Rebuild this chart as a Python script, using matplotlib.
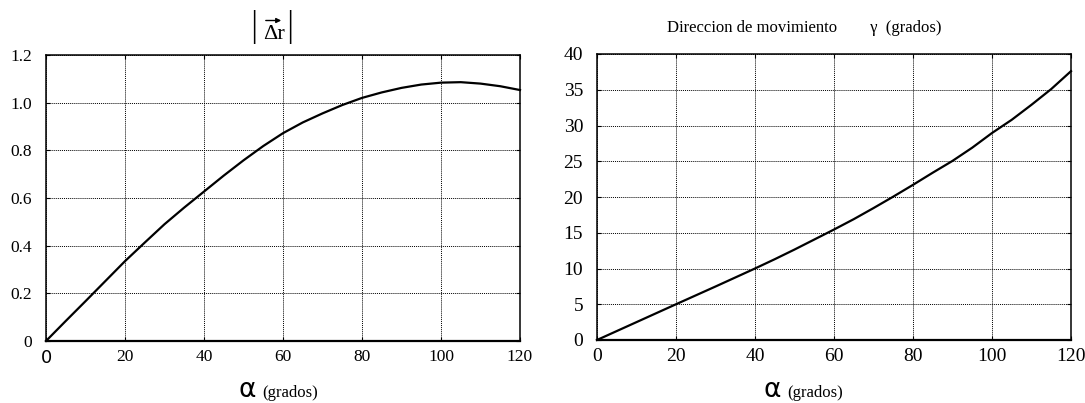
import matplotlib
matplotlib.use("Agg")
import matplotlib.pyplot as plt
from matplotlib.ticker import FixedLocator, FixedFormatter

alpha = [0, 5, 10, 15, 20, 25, 30, 35, 40, 45, 50, 55, 60, 65, 70, 75, 80,
         85, 90, 95, 100, 105, 110, 115, 120]
delta_r = [0, 0.084, 0.167, 0.251, 0.335, 0.413, 0.49, 0.56, 0.627, 0.694,
           0.758, 0.818, 0.872, 0.917, 0.955, 0.99, 1.02, 1.043, 1.062,
           1.076, 1.084, 1.086, 1.08, 1.069, 1.053]
gamma = [0, 1.25, 2.5, 3.75, 5.0, 6.24, 7.48, 8.74, 10.0, 11.3, 12.65, 14.05,
         15.45, 16.9, 18.45, 20.05, 21.7, 23.4, 25.05, 26.9, 28.95, 30.8,
         32.9, 35.1, 37.6]

x_ticks = [0, 20, 40, 60, 80, 100, 120]
x_labels = ["0", "20", "40", "60", "80", "100", "120"]
y1_ticks = [0, 0.2, 0.4, 0.6, 0.8, 1.0, 1.2]
y1_labels = ["0", "0.2", "0.4", "0.6", "0.8", "1.0", "1.2"]
y2_ticks = [0, 5, 10, 15, 20, 25, 30, 35, 40]
y2_labels = ["0", "5", "10", "15", "20", "25", "30", "35", "40"]

plt.rcParams['font.family'] = ['Liberation Serif', 'DejaVu Serif']
plt.rcParams['mathtext.fontset'] = 'stix'

W, H = 1085, 403
fig = plt.figure(figsize=(W / 100, H / 100), dpi=100)

ax1 = fig.add_axes([46 / W, 1 - 341 / H, 474 / W, 286 / H])
ax2 = fig.add_axes([597 / W, 1 - 340 / H, 474 / W, 286 / H])


def style(ax, yt, yl, ymax, fs):
    ax.set_xlim(0, 120)
    ax.set_ylim(0, ymax)
    ax.xaxis.set_major_locator(FixedLocator(x_ticks))
    ax.xaxis.set_major_formatter(FixedFormatter(x_labels))
    ax.yaxis.set_major_locator(FixedLocator(yt))
    ax.yaxis.set_major_formatter(FixedFormatter(yl))
    ax.tick_params(direction='in', length=3, width=0.8, top=True, right=True,
                   labelsize=fs, colors='black')
    ax.tick_params(axis='x', pad=6)
    ax.tick_params(axis='y', pad=10)
    ax.grid(True, color='black', linestyle=(0, (1, 1)), linewidth=0.7)
    for s in ax.spines.values():
        s.set_linewidth(1.1)
    ax.spines['bottom'].set_linewidth(1.6)


style(ax1, y1_ticks, y1_labels, 1.2, 12.5)
style(ax2, y2_ticks, y2_labels, 40, 14)

lbl0 = ax1.get_xticklabels()[0]
lbl0.set_fontfamily('DejaVu Sans')
lbl0.set_fontsize(13)

ax1.plot(alpha, delta_r, color='black', linewidth=1.6, clip_on=False)
ax2.plot(alpha, gamma, color='black', linewidth=1.6, clip_on=False)

# Left title: | Δr (with arrow) |
fig.text(254 / W, 1 - 27 / H, '|', ha='center', va='center', fontsize=24,
         family='DejaVu Sans', fontweight='light')
fig.text(290 / W, 1 - 27 / H, '|', ha='center', va='center', fontsize=24,
         family='DejaVu Sans', fontweight='light')
fig.text(273.5 / W, 1 - 39 / H, '\u0394r', ha='center', va='baseline',
         fontsize=16)
fig.add_artist(matplotlib.patches.FancyArrowPatch(
    (263 / W, 1 - 20.5 / H), (284 / W, 1 - 20.5 / H),
    transform=fig.transFigure, arrowstyle='-|>', mutation_scale=7,
    linewidth=1.0, color='black'))

fig.text(667 / W, 1 - 28 / H,
         'Direccion de movimiento        \u03b3  (grados)',
         ha='left', va='center', fontsize=12)

# x labels
for xa, xg in [(256, 262), (781, 787)]:
    fig.text(xa / W, 1 - 397 / H, '\u03b1', ha='right', va='baseline',
             fontsize=19, family='DejaVu Sans')
    fig.text(xg / W, 1 - 397 / H, '(grados)', ha='left', va='baseline',
             fontsize=12)

fig.savefig('out.png', dpi=100)
